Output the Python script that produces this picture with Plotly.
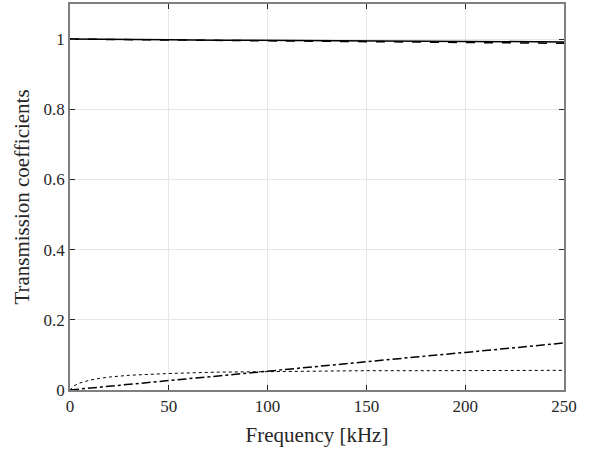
import plotly.graph_objects as go

freq = [0, 2, 5, 10, 15, 20, 30, 40, 50, 75, 100, 125, 150, 175, 200, 225, 250]
t_solid = [1.000, 1.000, 0.9998, 0.9996, 0.9994, 0.9992, 0.9988, 0.9985, 0.998, 0.997, 0.996, 0.9955, 0.995, 0.994, 0.993, 0.9925, 0.992]
t_dashed = [1.000, 1.000, 0.9998, 0.9995, 0.9993, 0.999, 0.9985, 0.998, 0.9975, 0.9965, 0.996, 0.995, 0.9935, 0.9925, 0.991, 0.990, 0.988]
t_dashdot = [0.000, 0.001, 0.003, 0.005, 0.008, 0.011, 0.016, 0.022, 0.027, 0.040, 0.054, 0.067, 0.080, 0.094, 0.107, 0.121, 0.134]
t_dotted = [0.000, 0.012, 0.020, 0.028, 0.033, 0.037, 0.042, 0.045, 0.047, 0.051, 0.053, 0.054, 0.055, 0.055, 0.056, 0.056, 0.056]

xticks = [0, 50, 100, 150, 200, 250]
yticks = [0, 0.2, 0.4, 0.6, 0.8, 1]
ytick_labels = ["0", "0.2", "0.4", "0.6", "0.8", "1"]

fig = go.Figure()
fig.add_trace(go.Scatter(x=freq, y=t_solid, mode="lines", line=dict(color="black", width=1.5, dash="solid")))
fig.add_trace(go.Scatter(x=freq, y=t_dashed, mode="lines", line=dict(color="black", width=1.5, dash="dash")))
fig.add_trace(go.Scatter(x=freq, y=t_dashdot, mode="lines", line=dict(color="black", width=1.5, dash="dashdot")))
fig.add_trace(go.Scatter(x=freq, y=t_dotted, mode="lines", line=dict(color="black", width=1.0, dash="dot")))

font = dict(family="Liberation Serif, DejaVu Serif, serif", color="#262626")
axis_common = dict(
    showline=True, linecolor="#7f7f7f", linewidth=1.5, mirror="allticks",
    ticks="inside", ticklen=5, tickcolor="#262626", tickwidth=1,
    showgrid=True, gridcolor="#e6e6e6", gridwidth=1, zeroline=False,
    tickfont=dict(size=17, **font),
)
fig.update_layout(
    width=591, height=451,
    margin=dict(l=70, r=27, t=2, b=61),
    paper_bgcolor="white", plot_bgcolor="white",
    showlegend=False,
    font=font,
    xaxis=dict(range=[0, 250], tickvals=xticks, title=dict(text="Frequency [kHz]", font=dict(size=21, **font), standoff=12), **axis_common),
    yaxis=dict(range=[0, 1.1], tickvals=yticks, ticktext=ytick_labels, title=dict(text="Transmission coefficients", font=dict(size=21, **font), standoff=8), **axis_common),
)
fig.write_html("out.html")
